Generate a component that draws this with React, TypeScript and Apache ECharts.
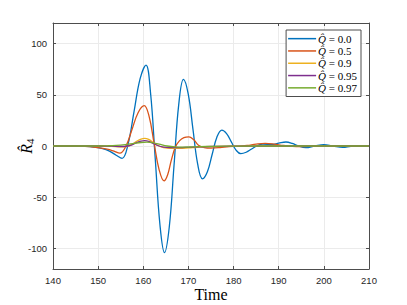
import React, { useEffect, useRef } from "react";
import * as echarts from "echarts";

const xTicks = [140, 150, 160, 170, 180, 190, 200, 210];
const qValues = ["0.0", "0.5", "0.9", "0.95", "0.97"];
const seriesNames = qValues.map((q) => "Q̂ = " + q);
const colors = ["#0072BD", "#D95319", "#EDB120", "#7E2F8E", "#77AC30"];

const blueT = [140, 145, 147, 149, 151, 152.5, 154, 155.3, 156.6, 157.95, 159.3, 160.6, 161.6, 162.65, 163.7, 164.7, 165.75, 166.8, 167.85, 168.9, 169.95, 171, 172.05, 173.1, 174.2, 175.25, 176.3, 177.4, 178.45, 179.5, 180.55, 181.6, 182.8, 184, 185.3, 186.5, 188.5, 190, 191.6, 193, 194.5, 196, 198, 200, 202, 204.2, 206, 208, 210];
const blueV = [0, 0, -0.3, -1, -2.5, -5, -9, -12, 1.3, 33.5, 65.7, 79, 52.2, -12.5, -77.3, -104, -79.3, -19.5, 40.3, 65, 50.8, 16.5, -17.8, -32, -25.1, -8.25, 8.6, 15.5, 12.1, 4, -4.1, -7.5, -6.1, -2.9, 0.4, 1.8, 1.5, 2.8, 3.9, 2.5, -0.3, -1.6, 0, 1.3, 0, -1.3, -0.3, 0, 0];

const orangeT = [140, 147, 150, 152, 153.5, 154.8, 156.15, 157.5, 158.85, 160.2, 161.3, 162.4, 163.5, 164.6, 165.4, 166.2, 167.1, 168, 169, 170.1, 171.2, 172.3, 173.5, 175, 177, 179, 181, 183, 185, 187, 189, 191, 193, 195, 198, 202, 210];
const orangeV = [0, -0.3, -1.5, -3, -5, -7, -0.2, 16.1, 32.5, 39.3, 28.7, 2.5, -23, -34, -28, -14, -1, 5, 8.2, 9, 6, 0.5, -1.5, -2, -1.5, -0.5, -0.3, 0.5, 1.8, 2.5, 1.8, 0.5, -0.3, -0.5, 0, 0, 0];

const yellowT = [140, 150, 153, 155, 156.5, 157.5, 158.5, 159.5, 160.3, 161.2, 162.2, 163.2, 164.5, 166, 168, 170, 172, 175, 180, 190, 210];
const yellowV = [0, 0, -0.3, -0.8, -0.3, 1.5, 4.5, 6.8, 7.5, 6.5, 3.5, 0.5, -1.5, -2.2, -2.2, -1.8, -1.2, -0.6, -0.2, 0, 0];

const purpleT = [140, 150, 153, 155, 156.5, 157.5, 158.5, 159.5, 160.3, 161.2, 162.2, 163.2, 164.5, 166, 168, 170, 172, 175, 180, 190, 210];
const purpleV = [0, 0, -0.2, -0.5, 0, 1.2, 3.2, 4.7, 5.2, 4.6, 2.6, 0.5, -1, -1.5, -1.6, -1.3, -0.9, -0.5, -0.2, 0, 0];

const greenT = [140, 150, 152, 154, 156, 158, 159.5, 160.8, 162, 163.5, 165.3, 167, 169, 171, 174, 178, 185, 195, 210];
const greenV = [0, 0, 0.2, 0.6, 1.4, 2.6, 3.4, 3.7, 3.3, 1.8, 0, -0.9, -1.1, -0.9, -0.5, -0.2, 0, 0, 0];

const allT = [blueT, orangeT, yellowT, purpleT, greenT];
const allV = [blueV, orangeV, yellowV, purpleV, greenV];

const axisColor = "#4d4d4d";
const labelFont = "'Liberation Sans', Arial, sans-serif";
const serif = "'Liberation Serif', 'DejaVu Serif', serif";

export default function App() {
  const ref = useRef<HTMLDivElement>(null);
  useEffect(() => {
    if (!ref.current) return;
    const chart = echarts.init(ref.current, undefined, { renderer: "svg" });
    const baseX = {
      type: "value" as const,
      min: xTicks[0],
      max: xTicks[xTicks.length - 1],
      interval: 10,
    };
    chart.setOption({
      animation: false,
      backgroundColor: "#ffffff",
      grid: { left: 53, right: 38, top: 23, bottom: 36, outerBoundsMode: "none", containLabel: false },
      legend: {
        orient: "vertical",
        right: 46,
        top: 30,
        backgroundColor: "#ffffff",
        borderColor: axisColor,
        borderWidth: 1,
        borderRadius: 0,
        padding: [3, 4, 3, 2],
        itemGap: 1,
        itemWidth: 28,
        itemHeight: 1.5,
        icon: "rect",
        formatter: (name: string) => "{q|Q̂} = " + name.split("= ")[1],
        textStyle: {
          fontFamily: serif,
          fontSize: 11,
          color: "#000",
          lineHeight: 11.3,
          padding: [0, 0, 0, -3],
          rich: {
            q: { fontFamily: serif, fontSize: 11, fontStyle: "italic", color: "#000" },
          },
        },
        data: seriesNames,
      },
      xAxis: [
        {
          ...baseX,
          position: "bottom",
          name: "Time",
          nameLocation: "middle",
          nameGap: 17,
          nameMoveOverlap: false,
          nameTextStyle: { fontFamily: serif, fontSize: 16, color: "#000" },
          axisLine: { onZero: false, lineStyle: { color: axisColor, width: 1 } },
          axisTick: { inside: true, length: 3, lineStyle: { color: axisColor } },
          axisLabel: { fontFamily: labelFont, fontSize: 9.5, color: "#262626", margin: 6 },
          splitLine: { show: true, lineStyle: { color: "#ebebeb", width: 1 } },
        },
        {
          ...baseX,
          position: "top",
          axisLine: { onZero: false, lineStyle: { color: axisColor, width: 1 } },
          axisTick: { inside: true, length: 3, lineStyle: { color: axisColor } },
          axisLabel: { show: false },
          splitLine: { show: false },
        },
      ],
      yAxis: [
        {
          type: "value",
          min: -120,
          max: 120,
          splitNumber: 5,
          position: "left",
          name: "{r|R̂}{s|4}",
          nameLocation: "middle",
          nameGap: 18,
          nameMoveOverlap: false,
          nameRotate: 90,
          nameTextStyle: {
            rich: {
              r: { fontFamily: serif, fontSize: 16, fontStyle: "italic", color: "#000" },
              s: { fontFamily: serif, fontSize: 11, color: "#000", padding: [7, 0, 0, 0] },
            },
          },
          axisLine: { onZero: false, lineStyle: { color: axisColor, width: 1 } },
          axisTick: { inside: true, length: 3, lineStyle: { color: axisColor } },
          axisLabel: {
            fontFamily: labelFont,
            fontSize: 9.5,
            color: "#262626",
            margin: 6,
            showMinLabel: false,
            showMaxLabel: false,
          },
          splitLine: { show: true, lineStyle: { color: "#ebebeb", width: 1 } },
        },
        {
          type: "value",
          min: -120,
          max: 120,
          splitNumber: 5,
          position: "right",
          axisLine: { show: true, onZero: false, lineStyle: { color: axisColor, width: 1 } },
          axisTick: { show: true, inside: true, length: 3, lineStyle: { color: axisColor } },
          axisLabel: { show: false },
          splitLine: { show: false },
        },
      ],
      series: seriesNames.map((name, i) => ({
        name,
        type: "line",
        xAxisIndex: 0,
        yAxisIndex: 0,
        data: allT[i].map((t, j) => [t, allV[i][j]]),
        smooth: 0.4,
        showSymbol: false,
        symbol: "none",
        color: colors[i],
        lineStyle: { color: colors[i], width: 1.3 },
        z: 2 + i,
      })),
    });
    return () => chart.dispose();
  }, []);
  return <div ref={ref} style={{ width: 407, height: 305, marginLeft: -8, marginTop: -8 }} />;
}
